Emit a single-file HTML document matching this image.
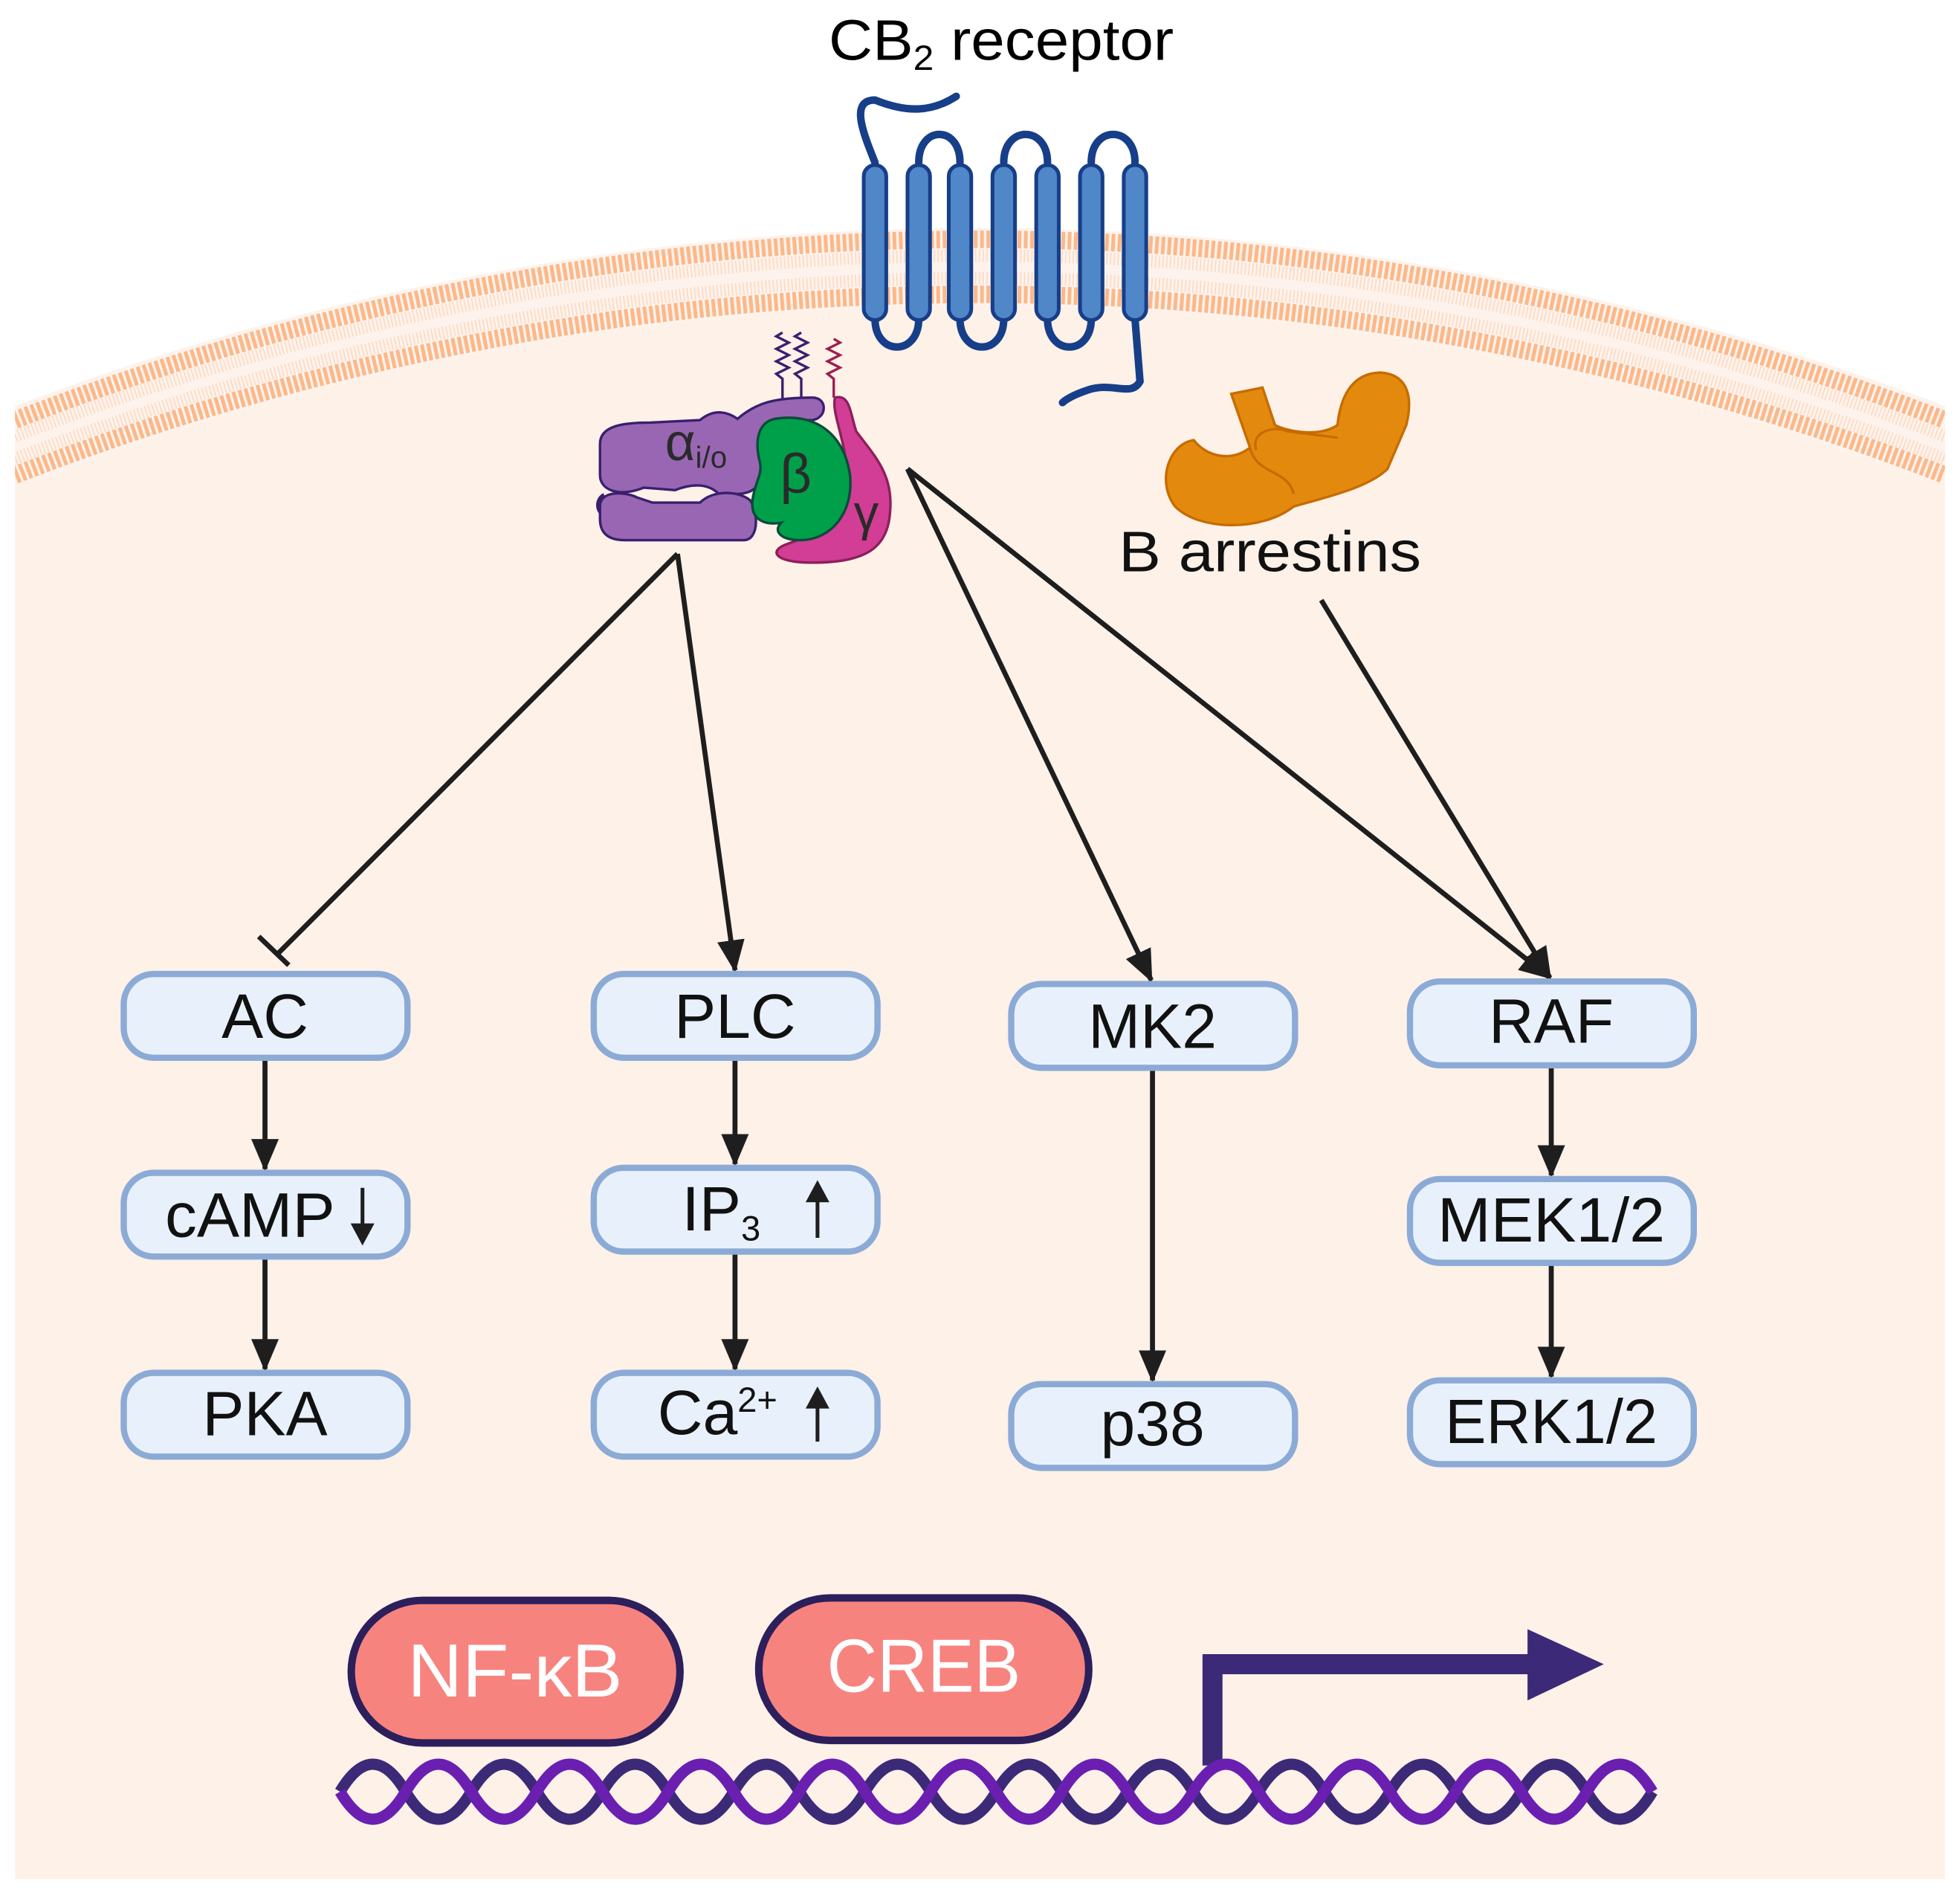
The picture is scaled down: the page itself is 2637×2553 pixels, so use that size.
<!DOCTYPE html>
<html><head><meta charset="utf-8"><style>
html,body{margin:0;padding:0;background:#fff}
svg{display:block}
text{font-family:"Liberation Sans",sans-serif}
</style></head><body>
<svg width="2637" height="2553" viewBox="0 0 1568 1518" preserveAspectRatio="none" xmlns="http://www.w3.org/2000/svg">
<defs>
<marker id="ah" markerUnits="userSpaceOnUse" markerWidth="26" markerHeight="22" refX="24" refY="11" orient="auto">
<path d="M0,0 L26,11 L0,22 Z" fill="#1e1e1e"/>
</marker>
<clipPath id="cl"><rect x="12" y="0" width="1544" height="1518"/></clipPath>
</defs>
<rect width="1568" height="1518" fill="#fff"/>
<path d="M12,1503 L12,330 A2133,2133 0 0 1 1556,330 L1556,1503 Z" fill="#fdf1e8"/>
<!-- membrane -->
<g clip-path="url(#cl)">
<path d="M12,358 A2133,2133 0 0 1 1556,358" fill="none" stroke="#fef3ec" stroke-width="62"/>
<path d="M12,336 A2133,2133 0 0 1 1556,336" fill="none" stroke="#fcb88a" stroke-width="14" stroke-dasharray="3 2"/>
<path d="M12,380 A2133,2133 0 0 1 1556,380" fill="none" stroke="#fcb88a" stroke-width="14" stroke-dasharray="3 2"/>
<path d="M12,349 A2133,2133 0 0 1 1556,349" fill="none" stroke="#fcd9c2" stroke-width="10" stroke-dasharray="1 2"/>
<path d="M12,367 A2133,2133 0 0 1 1556,367" fill="none" stroke="#fcd9c2" stroke-width="10" stroke-dasharray="1 2"/>
</g>
<!-- title -->
<text x="663" y="48" font-size="46" textLength="276" lengthAdjust="spacingAndGlyphs">CB<tspan font-size="28" dy="8">2</tspan><tspan dy="-8"> receptor</tspan></text>
<!-- receptor -->
<g fill="none" stroke="#173e88" stroke-width="6" stroke-linecap="round">
<path d="M765,77 C745,90 725,90 700,80 C680,80 690,105 700,130"/>
<path d="M735,130 C735,100 768,100 768,130"/>
<path d="M803,130 C803,100 838,100 838,130"/>
<path d="M873,130 C873,100 908,100 908,130"/>
<path d="M700,255 C700,285 735,285 735,255"/>
<path d="M768,255 C768,285 803,285 803,255"/>
<path d="M838,255 C838,285 873,285 873,255"/>
<path d="M908,255 L912,305 C905,318 890,305 870,312 C858,316 852,320 850,322"/>
</g>
<g fill="#4f87c8" stroke="#173e88" stroke-width="3">
<rect x="691" y="132" width="18" height="124" rx="9"/>
<rect x="726" y="132" width="18" height="124" rx="9"/>
<rect x="759" y="132" width="18" height="124" rx="9"/>
<rect x="794" y="132" width="18" height="124" rx="9"/>
<rect x="829" y="132" width="18" height="124" rx="9"/>
<rect x="864" y="132" width="18" height="124" rx="9"/>
<rect x="899" y="132" width="18" height="124" rx="9"/>
</g>
<!-- G protein -->
<g stroke-width="2" fill="none">
<path d="M626,320 V303 l-5,-4 l10,-5 l-10,-5 l10,-5 l-10,-5 l10,-5 l-10,-5 l5,-3" stroke="#3a1f6e"/>
<path d="M641,320 V303 l-5,-4 l10,-5 l-10,-5 l10,-5 l-10,-5 l10,-5 l-10,-5 l5,-3" stroke="#3a1f6e"/>
<path d="M667,318 V303 l-5,-4 l10,-5 l-10,-5 l10,-5 l-10,-5 l10,-5 l-5,-3" stroke="#9b1f4f"/>
</g>
<path d="M484,397 a8,8 0 0 0 0,14" fill="none" stroke="#3a1f6e" stroke-width="6"/>
<path d="M480,355 C480,340 500,338 520,338 L560,336 C572,326 583,330 590,335 C605,322 620,318 650,318 C662,318 662,334 650,336 C625,336 612,342 610,380 C605,398 590,395 575,395 C565,385 550,388 540,392 L515,390 C495,398 480,392 480,380 Z" fill="#9966b3" stroke="#3a1f6e" stroke-width="2"/>
<path d="M480,405 C480,392 500,393 510,398 L522,402 L560,402 C570,392 590,392 600,400 C607,410 607,432 595,432 L500,432 C485,432 480,425 480,415 Z" fill="#9966b3" stroke="#3a1f6e" stroke-width="2"/>
<path d="M668,318 C680,315 680,330 685,345 C700,365 715,380 712,410 C710,440 690,450 650,450 C618,450 615,440 630,435 C660,425 680,405 678,380 C676,350 665,330 668,318 Z" fill="#d23d95" stroke="#8d1f5a" stroke-width="2"/>
<path d="M620,335 C650,330 675,345 680,380 C683,410 665,432 640,432 C625,432 618,425 625,418 C615,420 600,418 602,400 C604,385 610,380 608,370 C604,355 605,338 620,335 Z" fill="#00a04a" stroke="#0d4a3a" stroke-width="2"/>
<text x="532" y="368" font-size="42" fill="#2a2a2a">α<tspan font-size="24" dy="6">i/o</tspan></text>
<text x="624" y="394" font-size="44" fill="#2a2a2a">β</text>
<text x="683" y="424" font-size="40" fill="#2a2a2a">γ</text>
<!-- arrestin -->
<path d="M985,315 L1010,310 L1020,340 C1030,345 1055,350 1070,340 C1072,320 1080,298 1105,298 C1128,300 1130,320 1125,340 L1110,375 C1095,390 1060,398 1035,405 C1010,425 960,425 940,405 C925,385 935,355 955,352 C965,365 985,370 1000,358 Z" fill="#e38a0e" stroke="#c76b00" stroke-width="2"/>
<path d="M1005,360 C1000,345 1020,340 1030,345 L1070,350 M1000,358 C1005,380 1030,375 1035,395" fill="none" stroke="#c76b00" stroke-width="2"/>
<text x="895" y="457" font-size="46" fill="#111" textLength="242" lengthAdjust="spacingAndGlyphs">B arrestins</text>
<!-- connectors -->
<g stroke="#1e1e1e" stroke-width="4" fill="none">
<line x1="542" y1="443" x2="223" y2="762"/>
<line x1="207" y1="749" x2="231" y2="772"/>
<line x1="542" y1="443" x2="588" y2="776" marker-end="url(#ah)"/>
<line x1="726" y1="375" x2="921" y2="784" marker-end="url(#ah)"/>
<line x1="726" y1="375" x2="1240" y2="782" marker-end="url(#ah)"/>
<line x1="1057" y1="480" x2="1240" y2="782" marker-end="url(#ah)"/>
<line x1="212" y1="846" x2="212" y2="935" marker-end="url(#ah)"/>
<line x1="212" y1="1005" x2="212" y2="1095" marker-end="url(#ah)"/>
<line x1="588" y1="846" x2="588" y2="931" marker-end="url(#ah)"/>
<line x1="588" y1="1001" x2="588" y2="1095" marker-end="url(#ah)"/>
<line x1="922" y1="854" x2="922" y2="1104" marker-end="url(#ah)"/>
<line x1="1241" y1="852" x2="1241" y2="940" marker-end="url(#ah)"/>
<line x1="1241" y1="1010" x2="1241" y2="1101" marker-end="url(#ah)"/>
</g>
<!-- boxes -->
<g fill="#e8f1fb" stroke="#8caad6" stroke-width="5">
<rect x="99" y="779" width="227" height="67" rx="24"/>
<rect x="99" y="938" width="227" height="67" rx="24"/>
<rect x="99" y="1098" width="227" height="67" rx="24"/>
<rect x="475" y="779" width="227" height="67" rx="24"/>
<rect x="475" y="934" width="227" height="67" rx="24"/>
<rect x="475" y="1098" width="227" height="67" rx="24"/>
<rect x="809" y="787" width="227" height="67" rx="24"/>
<rect x="809" y="1107" width="227" height="67" rx="24"/>
<rect x="1128" y="785" width="227" height="67" rx="24"/>
<rect x="1128" y="943" width="227" height="67" rx="24"/>
<rect x="1128" y="1104" width="227" height="67" rx="24"/>
</g>
<g font-size="50" fill="#111" text-anchor="middle">
<text x="212" y="830">AC</text>
<text x="200" y="989" textLength="136" lengthAdjust="spacingAndGlyphs">cAMP</text>
<text x="212" y="1148">PKA</text>
<text x="588" y="830">PLC</text>
<text x="577" y="984">IP<tspan font-size="28" dy="8">3</tspan></text>
<text x="574" y="1147">Ca<tspan font-size="28" dy="-18">2+</tspan></text>
<text x="922" y="838">MK2</text>
<text x="922" y="1156">p38</text>
<text x="1241" y="834">RAF</text>
<text x="1241" y="993" textLength="182" lengthAdjust="spacingAndGlyphs">MEK1/2</text>
<text x="1241" y="1154" textLength="170" lengthAdjust="spacingAndGlyphs">ERK1/2</text>
</g>
<g stroke="#1e1e1e" stroke-width="3" fill="#1e1e1e">
<line x1="290" y1="950" x2="290" y2="984"/><path d="M283,980 L297,980 L290,993 Z"/>
<line x1="654" y1="955" x2="654" y2="990"/><path d="M647,960 L661,960 L654,947 Z"/>
<line x1="654" y1="1120" x2="654" y2="1153"/><path d="M647,1125 L661,1125 L654,1112 Z"/>
</g>
<!-- transcription factors -->
<rect x="281" y="1280" width="263" height="114" rx="57" fill="#f7837f" stroke="#2c1f5c" stroke-width="6"/>
<rect x="607" y="1278" width="264" height="114" rx="57" fill="#f7837f" stroke="#2c1f5c" stroke-width="6"/>
<text x="412" y="1357" font-size="60" fill="#fff" text-anchor="middle" textLength="172" lengthAdjust="spacingAndGlyphs">NF-κB</text>
<text x="739" y="1353" font-size="60" fill="#fff" text-anchor="middle" textLength="155" lengthAdjust="spacingAndGlyphs">CREB</text>
<!-- promoter arrow -->
<path d="M970,1412 V1331 H1228" fill="none" stroke="#3c2977" stroke-width="16"/>
<path d="M1222,1303 L1283,1331 L1222,1360 Z" fill="#3c2977"/>
<!-- DNA -->
<path d="M272,1433 q26.25,-44 52.5,0 t52.5,0 t52.5,0 t52.5,0 t52.5,0 t52.5,0 t52.5,0 t52.5,0 t52.5,0 t52.5,0 t52.5,0 t52.5,0 t52.5,0 t52.5,0 t52.5,0 t52.5,0 t52.5,0 t52.5,0 t52.5,0 t52.5,0" fill="none" stroke="#3c2977" stroke-width="9"/>
<path d="M272,1433 q26.25,44 52.5,0 t52.5,0 t52.5,0 t52.5,0 t52.5,0 t52.5,0 t52.5,0 t52.5,0 t52.5,0 t52.5,0 t52.5,0 t52.5,0 t52.5,0 t52.5,0 t52.5,0 t52.5,0 t52.5,0 t52.5,0 t52.5,0 t52.5,0" fill="none" stroke="#6a1fb0" stroke-width="9"/>
</svg>
</body></html>
